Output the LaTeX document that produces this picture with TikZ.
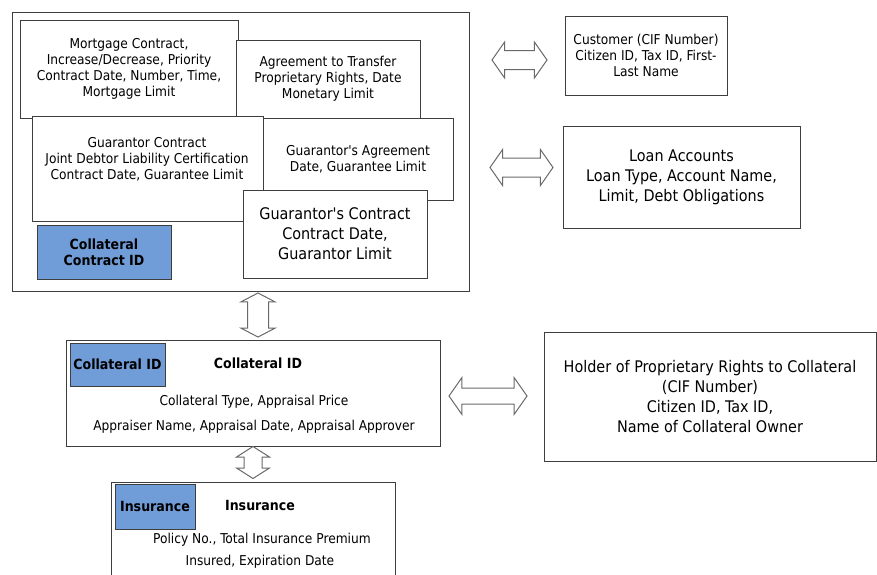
\documentclass[tikz,border=0pt]{standalone}
\usepackage{fontspec}
\setmainfont{DejaVu Sans Condensed}
\usetikzlibrary{shapes.arrows}

\definecolor{keyblue}{RGB}{112,156,216}
\definecolor{edgegray}{RGB}{62,62,62}
\definecolor{arrowgray}{RGB}{105,105,105}

\begin{document}
\begin{tikzpicture}[x=1pt,y=-1pt,
    box/.style={draw=edgegray,fill=white,line width=0.9pt,inner sep=0pt,outer sep=0pt,align=center,anchor=north west},
    keybox/.style={box,fill=keyblue,font=\fontsize{14}{16}\selectfont\bfseries},
    bigtext/.style={font=\fontsize{16}{20}\selectfont},
    dblarrow/.style={double arrow,draw=arrowgray,fill=white,line width=1pt,inner xsep=0pt,
        double arrow head indent=0pt,double arrow tip angle=110}]
    \useasboundingbox (0,0) rectangle (877,574);
    \begin{scope}[font=\fontsize{13.6}{16}\selectfont]

    % collateral contract group
    \node (contracts) [box, minimum width=457, minimum height=279] at (12,12) {};
    \node (mortgage) [box, minimum width=218, minimum height=98] at (20,20)
        {Mortgage Contract,\\ Increase/Decrease, Priority\\ Contract Date, Number, Time,\\ Mortgage Limit};
    \node (transfer) [box, minimum width=184, minimum height=78] at (236,40)
        {Agreement to Transfer\\ Proprietary Rights, Date\\ Monetary Limit};
    \node (guarcontract) [box, minimum width=231, minimum height=105] at (32,116) {};
    \node (guarcontracttext) [align=center] at (147,159)
        {Guarantor Contract\\ Joint Debtor Liability Certification\\ Contract Date, Guarantee Limit};
    \node (guaragree) [box, minimum width=190, minimum height=82] at (263,118)
        {Guarantor\textquotesingle s Agreement\\ Date, Guarantee Limit};
    \node (guarlimit) [box, bigtext, minimum width=184, minimum height=88] at (243,190)
        {Guarantor\textquotesingle s Contract\\ Contract Date,\\ Guarantor Limit};
    \node (contractid) [keybox, minimum width=134, minimum height=54] at (37,225)
        {Collateral\\ Contract ID};

    % right hand side
    \node (customer) [box, minimum width=162, minimum height=79] at (565,16)
        {Customer (CIF Number)\\ Citizen ID, Tax ID, First-\\ Last Name};
    \node (loans) [box, bigtext, minimum width=237, minimum height=102] at (563,126)
        {Loan Accounts\\ Loan Type, Account Name,\\ Limit, Debt Obligations};
    \node (custarrow) [dblarrow, minimum height=55, minimum width=35, inner ysep=9,
        double arrow head extend=8.5] at (519.5,60) {};
    \node (loanarrow) [dblarrow, minimum height=63, minimum width=35, inner ysep=9,
        double arrow head extend=8.5] at (521.5,167.5) {};

    % collateral
    \node (linkarrow) [dblarrow, rotate=90, minimum height=44, minimum width=33, inner ysep=10,
        double arrow head extend=6.5, double arrow tip angle=125] at (258,315) {};
    \node (collateral) [box, minimum width=374, minimum height=106] at (66,340) {};
    \node (collateralkey) [keybox, minimum width=95, minimum height=43] at (70,343) {Collateral ID};
    \node (collateraltitle) [font=\fontsize{14}{16}\selectfont\bfseries] at (258,363) {Collateral ID};
    \node (collateralline1) at (254,402) {Collateral Type, Appraisal Price};
    \node (collateralline2) at (254,427) {Appraiser Name, Appraisal Date, Appraisal Approver};

    \node (ownerarrow) [dblarrow, minimum height=78, minimum width=36, inner ysep=7.5,
        double arrow head extend=10.5] at (488,396) {};
    \node (owner) [box, bigtext, minimum width=332, minimum height=129] at (544,332)
        {Holder of Proprietary Rights to Collateral\\ (CIF Number)\\ Citizen ID, Tax ID,\\ Name of Collateral Owner};

    % insurance
    \node (insurearrow) [dblarrow, rotate=90, minimum height=32, minimum width=32, inner ysep=8.5,
        double arrow head extend=7.5, double arrow tip angle=115] at (253,462.5) {};
    \node (insurance) [box, minimum width=284, minimum height=110] at (111,482) {};
    \node (insurancekey) [keybox, minimum width=80, minimum height=45] at (115,484) {Insurance};
    \node (insurancetitle) [font=\fontsize{14}{16}\selectfont\bfseries] at (260,505) {Insurance};
    \node (insuranceline1) at (262,540) {Policy No., Total Insurance Premium};
    \node (insuranceline2) at (260,562) {Insured, Expiration Date};

    \end{scope}
\end{tikzpicture}
\end{document}
